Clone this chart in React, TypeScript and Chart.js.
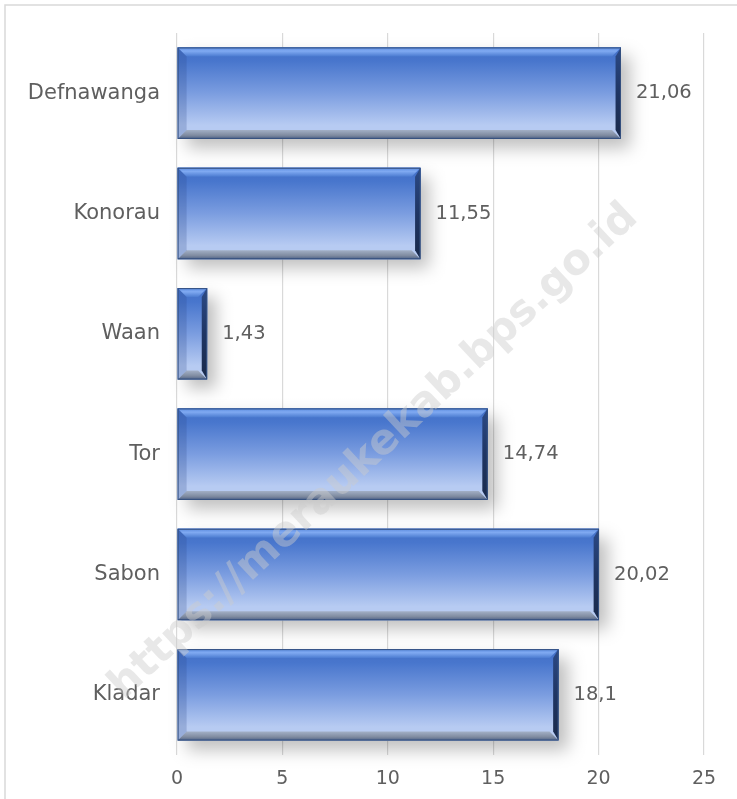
import React, { useEffect, useRef } from "react";
import { Chart, registerables } from "chart.js";

Chart.register(...registerables);

const categories = ["Defnawanga", "Konorau", "Waan", "Tor", "Sabon", "Kladar"];
const values = [21.06, 11.55, 1.43, 14.74, 20.02, 18.1];
const xTicks = [0, 5, 10, 15, 20, 25];
const watermark = "https://meraukekab.bps.go.id";

const FONT = "'DejaVu Sans', sans-serif";
const TEXT = "#5f5f5f";

const frame = {
  id: "frame",
  beforeDraw(chart: any) {
    const ctx = chart.ctx;
    ctx.save();
    ctx.fillStyle = "#ffffff";
    ctx.fillRect(0, 0, chart.width, chart.height);
    ctx.strokeStyle = "#d9d9d9";
    ctx.lineWidth = 1.5;
    ctx.strokeRect(5, 5, chart.width + 20, chart.height + 20);
    ctx.restore();
  },
};

const bevelBars = {
  id: "bevelBars",
  afterDatasetsDraw(chart: any) {
    const ctx = chart.ctx;
    const meta = chart.getDatasetMeta(0);
    meta.data.forEach((el: any, i: number) => {
      const p = el.getProps(["x", "y", "base", "height"], true);
      const x0 = Math.min(p.base, p.x);
      const x1 = Math.max(p.base, p.x);
      const y0 = p.y - p.height / 2;
      const y1 = p.y + p.height / 2;
      const w = x1 - x0;
      const h = y1 - y0;
      const b = Math.min(9, w / 3);

      const face = ctx.createLinearGradient(0, y0, 0, y1);
      face.addColorStop(0, "#4470c6");
      face.addColorStop(0.15, "#4876cd");
      face.addColorStop(0.5, "#7b9de0");
      face.addColorStop(0.85, "#b7cbf2");
      face.addColorStop(1, "#b7cbf2");

      ctx.save();
      ctx.shadowColor = "rgba(0,0,0,0.25)";
      ctx.shadowBlur = 16;
      ctx.shadowOffsetX = 9;
      ctx.shadowOffsetY = 9;
      ctx.fillStyle = face;
      ctx.fillRect(x0, y0, w, h);
      ctx.restore();

      ctx.save();
      ctx.fillStyle = face;
      ctx.fillRect(x0, y0, w, h);

      const tg = ctx.createLinearGradient(0, y0, 0, y0 + b);
      tg.addColorStop(0, "#5a8ade");
      tg.addColorStop(0.4, "#80aaf2");
      tg.addColorStop(1, "#4b7bd0");
      ctx.fillStyle = tg;
      ctx.beginPath();
      ctx.moveTo(x0, y0);
      ctx.lineTo(x1, y0);
      ctx.lineTo(x1 - b, y0 + b);
      ctx.lineTo(x0 + b, y0 + b);
      ctx.closePath();
      ctx.fill();

      const bg = ctx.createLinearGradient(0, y1 - b, 0, y1);
      bg.addColorStop(0, "#a3b0c6");
      bg.addColorStop(0.6, "#7f8ba0");
      bg.addColorStop(1, "#4e6288");
      ctx.fillStyle = bg;
      ctx.beginPath();
      ctx.moveTo(x0 + b, y1 - b);
      ctx.lineTo(x1 - b, y1 - b);
      ctx.lineTo(x1, y1);
      ctx.lineTo(x0, y1);
      ctx.closePath();
      ctx.fill();

      ctx.fillStyle = "rgba(40,70,130,0.22)";
      ctx.beginPath();
      ctx.moveTo(x0, y0);
      ctx.lineTo(x0 + b, y0 + b);
      ctx.lineTo(x0 + b, y1 - b);
      ctx.lineTo(x0, y1);
      ctx.closePath();
      ctx.fill();

      const rg = ctx.createLinearGradient(0, y0, 0, y1);
      rg.addColorStop(0, "#2c4a86");
      rg.addColorStop(0.5, "#1f3563");
      rg.addColorStop(1, "#1a2a4a");
      ctx.fillStyle = rg;
      ctx.beginPath();
      ctx.moveTo(x1, y0);
      ctx.lineTo(x1, y1);
      ctx.lineTo(x1 - b * 0.6, y1 - b);
      ctx.lineTo(x1 - b * 0.6, y0 + b);
      ctx.closePath();
      ctx.fill();

      ctx.strokeStyle = "#34507f";
      ctx.lineWidth = 1;
      ctx.strokeRect(x0 + 0.5, y0 + 0.5, w - 1, h - 1);

      ctx.fillStyle = TEXT;
      ctx.font = "19.5px " + FONT;
      ctx.textAlign = "left";
      ctx.textBaseline = "middle";
      ctx.fillText(String(values[i]).replace(".", ","), x1 + 15, p.y);
      ctx.restore();
    });
  },
};

const watermarkPlugin = {
  id: "watermark",
  afterDraw(chart: any) {
    const ctx = chart.ctx;
    ctx.save();
    ctx.translate(374, 452);
    ctx.rotate((-43 * Math.PI) / 180);
    ctx.font = "bold 40px 'DejaVu Sans', sans-serif";
    const m = ctx.measureText(watermark).width;
    const size = (40 * 705) / m;
    ctx.font = `bold ${size}px 'DejaVu Sans', sans-serif`;
    ctx.fillStyle = "rgba(205,205,205,0.45)";
    ctx.textAlign = "center";
    ctx.textBaseline = "middle";
    ctx.fillText(watermark, 0, 0);
    ctx.restore();
  },
};

export default function App() {
  const ref = useRef<HTMLCanvasElement | null>(null);
  useEffect(() => {
    if (!ref.current) return;
    const chart = new Chart(ref.current, {
      type: "bar",
      data: {
        labels: categories,
        datasets: [
          {
            data: values,
            backgroundColor: "#6a8fd8",
            borderWidth: 0,
            barPercentage: 0.76,
            categoryPercentage: 1,
          },
        ],
      },
      options: {
        indexAxis: "y",
        animation: false,
        responsive: false,
        maintainAspectRatio: false,
        layout: { padding: { top: 33, right: 33, left: 0, bottom: 0 } },
        plugins: {
          legend: { display: false },
          tooltip: { enabled: false },
        },
        scales: {
          x: {
            min: 0,
            max: 25,
            afterBuildTicks(scale: any) {
              scale.ticks = xTicks.map((v) => ({ value: v }));
            },
            afterFit(scale: any) {
              scale.height = 44;
            },
            grid: { color: "#d9d9d9", lineWidth: 1.2, drawTicks: false },
            border: { display: false },
            ticks: {
              color: TEXT,
              font: { family: FONT, size: 19 },
              padding: 13,
            },
          },
          y: {
            afterFit(scale: any) {
              scale.width = 177;
            },
            grid: { display: false, drawTicks: false },
            border: { display: false },
            ticks: {
              color: TEXT,
              font: { family: FONT, size: 21 },
              padding: 17,
            },
          },
        },
      },
      plugins: [frame, bevelBars, watermarkPlugin],
    });
    return () => chart.destroy();
  }, []);
  return (
    <div style={{ position: "absolute", left: 0, top: 0, width: 737, height: 799 }}>
      <canvas ref={ref} width={737} height={799} />
    </div>
  );
}
